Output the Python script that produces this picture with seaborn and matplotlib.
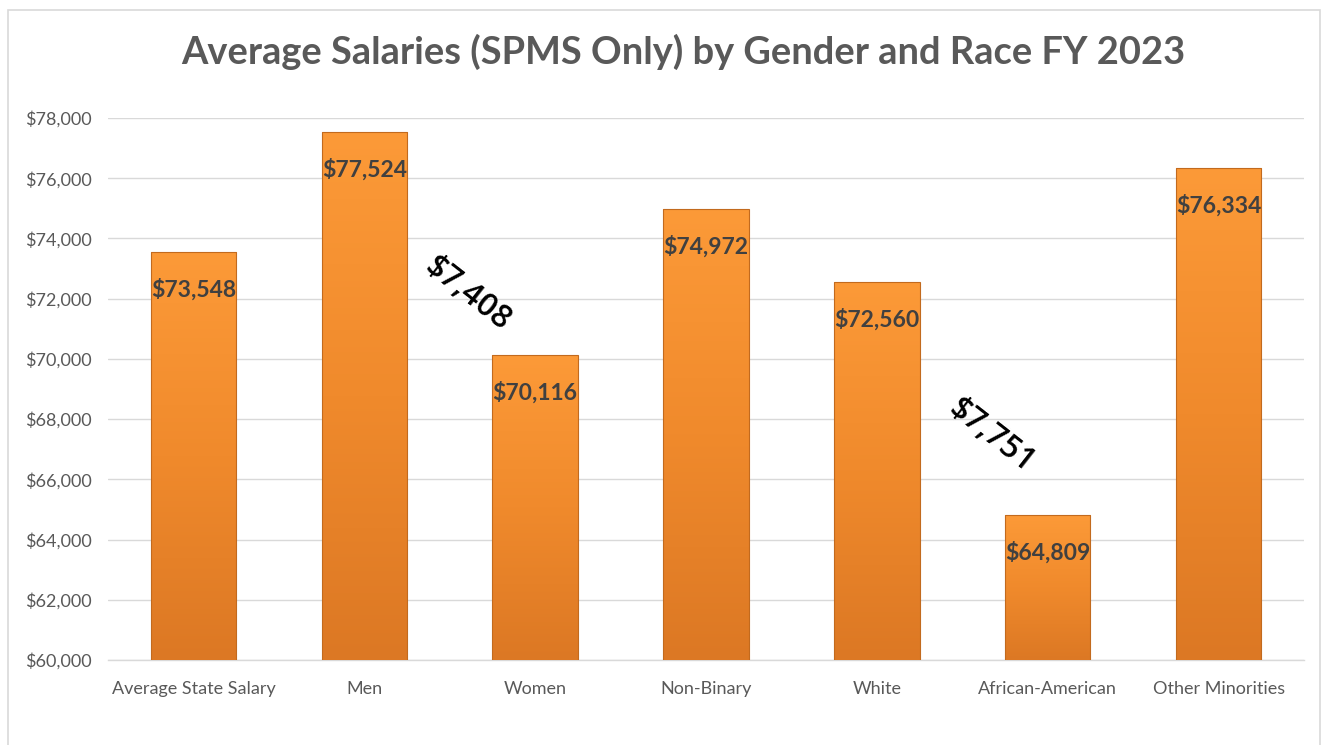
import numpy as np
import pandas as pd
import matplotlib
matplotlib.use("Agg")
import matplotlib.pyplot as plt
import matplotlib.patches as mpatches
from matplotlib.colors import LinearSegmentedColormap
import seaborn as sns

categories = ["Average State Salary", "Men", "Women", "Non-Binary", "White",
              "African-American", "Other Minorities"]
salaries = [73548, 77524, 70116, 74972, 72560, 64809, 76334]
yticks = list(range(60000, 78001, 2000))
gap_labels = ["$7,408", "$7,751"]
gap_x = [1.605, 4.67]
gap_values = [72150, 67450]

sns.set_theme(style="white")
plt.rcParams["font.family"] = ["Lato", "DejaVu Sans"]

df = pd.DataFrame({"category": categories, "salary": salaries})

fig = plt.figure(figsize=(13.22, 7.45), dpi=100)
ax = fig.add_axes([108 / 1322, 1 - 660 / 745, 1196 / 1322, 542 / 745])

sns.barplot(data=df, x="category", y="salary", color="#F28C28", width=0.5,
            edgecolor="#C26A1E", linewidth=0.8, ax=ax, zorder=3)

ax.set_ylim(60000, 78000)
ax.set_xlim(-0.5, len(categories) - 0.5)

# gradient fill clipped to each bar
cmap = LinearSegmentedColormap.from_list("og", ["#DC7824", "#F08A2C", "#FC9A38"])
grad = np.linspace(0, 1, 256).reshape(-1, 1)
for p in ax.patches:
    x0, y0 = p.get_x(), p.get_y()
    w, h = p.get_width(), p.get_height()
    im = ax.imshow(grad, cmap=cmap, aspect="auto", origin="lower",
                   extent=[x0, x0 + w, 60000, y0 + h], zorder=3.5)
    im.set_clip_path(p)
    p.set_facecolor("none")
    p.set_zorder(4)

ax.set_yticks(yticks)
ax.set_yticklabels([f"${v:,.0f}" for v in yticks])
ax.yaxis.grid(True, color="#D9D9D9", linewidth=1.0, zorder=0)
ax.set_axisbelow(True)
for s in ["top", "right", "left"]:
    ax.spines[s].set_visible(False)
ax.spines["bottom"].set_color("#D9D9D9")
ax.spines["bottom"].set_linewidth(1.0)
ax.tick_params(axis="both", length=0, labelsize=13, colors="#595959")
ax.tick_params(axis="x", pad=15)
ax.tick_params(axis="y", pad=12)
ax.set_xlabel("")
ax.set_ylabel("")

for i, v in enumerate(salaries):
    ax.annotate(f"${v:,.0f}", xy=(i, v), xytext=(0, -27), textcoords="offset points",
                ha="center", va="center", fontsize=16.5, fontweight="bold",
                color="#404040", zorder=6)

for xi, lbl, yv in zip(gap_x, gap_labels, gap_values):
    ax.text(xi, yv, lbl, ha="center", va="center", rotation=-38, fontsize=23,
            fontweight="semibold", color="#000000", zorder=6,
            family=["Open Sans", "DejaVu Sans"])

fig.text(683 / 1322, 1 - 52 / 745,
         "Average Salaries (SPMS Only) by Gender and Race FY 2023",
         ha="center", va="center", fontsize=27.4, fontweight="bold", color="#595959")

border = mpatches.Rectangle((8 / 1322, -0.01), (1320 - 8) / 1322, 1 - 10 / 745 + 0.01,
                            transform=fig.transFigure, fill=False,
                            edgecolor="#D9D9D9", linewidth=1.2)
fig.patches.append(border)

fig.savefig("out.png", dpi=100)
